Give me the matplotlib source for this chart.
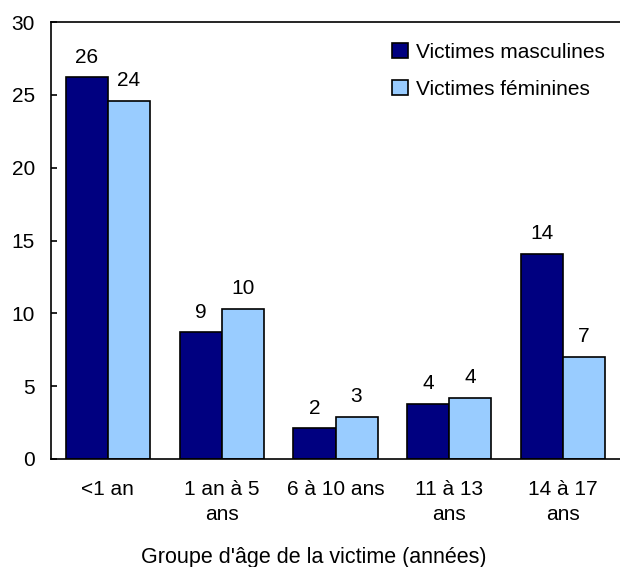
import numpy as np
import matplotlib.pyplot as plt

plt.rcParams["font.family"] = ["Liberation Sans", "DejaVu Sans"]

groups = ["<1 an", "1 an à 5\nans", "6 à 10 ans", "11 à 13\nans", "14 à 17\nans"]
male = [26.2, 8.7, 2.1, 3.8, 14.1]
female = [24.6, 10.3, 2.9, 4.2, 7.0]
male_labels = ["26", "9", "2", "4", "14"]
female_labels = ["24", "10", "3", "4", "7"]
series_names = ["Victimes masculines", "Victimes féminines"]

if __name__ == "__main__":
    fig = plt.figure(figsize=(6.2, 5.67), dpi=100, facecolor="w")
    ax = fig.add_axes([51 / 620, 1 - 459 / 567, 1 - 51 / 620, (459 - 22) / 567])

    x = np.arange(len(groups))
    w = 0.37
    b1 = ax.bar(x - w / 2, male, w, color="#000080", edgecolor="black", linewidth=1.2,
                label=series_names[0])
    b2 = ax.bar(x + w / 2, female, w, color="#99CCFF", edgecolor="black", linewidth=1.2,
                label=series_names[1])

    for bars, labs in [(b1, male_labels), (b2, female_labels)]:
        for rect, lab in zip(bars, labs):
            ax.annotate(lab, (rect.get_x() + rect.get_width() / 2, rect.get_height()),
                        xytext=(0, 10.5), textcoords="offset points",
                        ha="center", va="baseline", fontsize=15)

    ax.set_xlim(-0.5, len(groups) - 0.5)
    ax.set_ylim(0, 30)
    ax.set_yticks(range(0, 31, 5))
    ax.set_xticks(x)
    ax.set_xticklabels(groups, fontsize=15, linespacing=1.4)
    ax.tick_params(axis="y", direction="in", length=4.5, width=1.2, pad=11.5, labelsize=15)
    ax.tick_params(axis="x", length=0, pad=15)
    for s in ["left", "bottom", "top"]:
        ax.spines[s].set_linewidth(1.2)
    ax.spines["right"].set_visible(False)

    fig.text(314 / 620, 1 - 563 / 567, "Groupe d'âge de la victime (années)", fontsize=15.5,
             ha="center", va="baseline")

    ax.legend(loc="upper left", bbox_to_anchor=(392 / 620, 1 - 43 / 567),
              bbox_transform=fig.transFigure, frameon=False, fontsize=15,
              handlelength=0.75, handleheight=0.75, handletextpad=0.4,
              labelspacing=0.85, borderpad=0, borderaxespad=0)

    plt.savefig("out.png", dpi=100, facecolor="w")
